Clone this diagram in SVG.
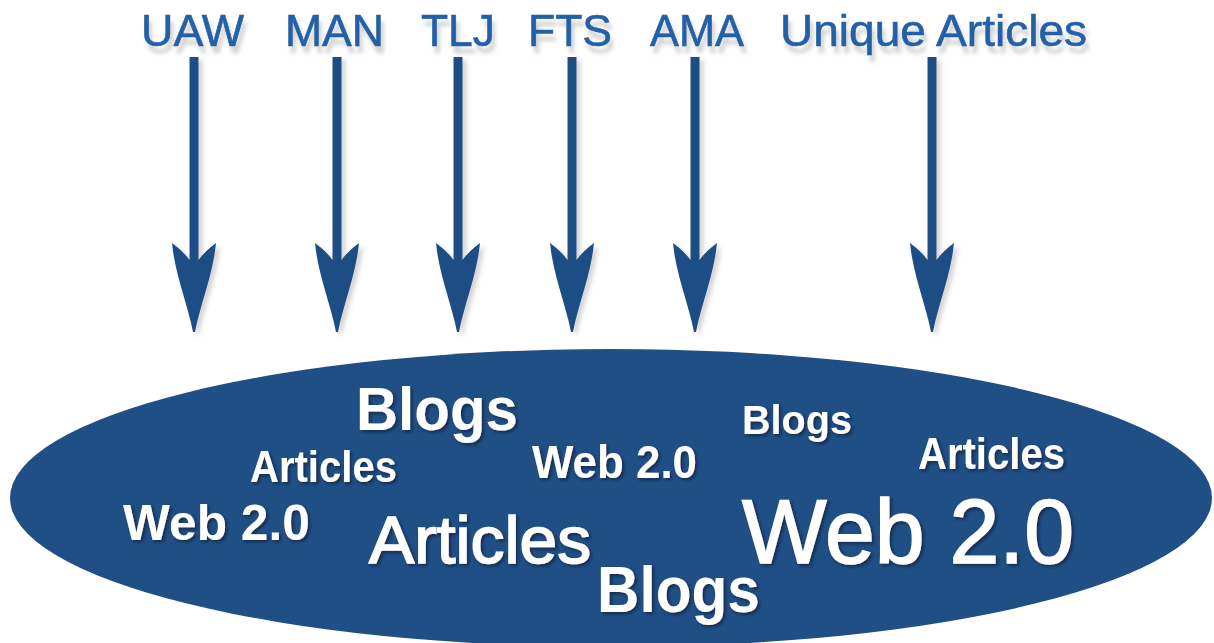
<svg xmlns="http://www.w3.org/2000/svg" width="1214" height="643" viewBox="0 0 1214 643">
<defs>
<style>
.lbl{font-family:"Liberation Sans",Arial,sans-serif;font-size:44px;fill:#2461a8;stroke:#2461a8;stroke-width:0.6;filter:url(#lblsh)}
.w{font-family:"Liberation Sans",Arial,sans-serif;fill:#ffffff;filter:url(#wsh)}
.b{font-weight:bold}
.r{stroke:#ffffff;stroke-width:1.6}
.arr{fill:#1f4e85;filter:url(#arsh)}
</style>
<filter id="lblsh" x="-10%" y="-30%" width="130%" height="180%">
<feDropShadow dx="3" dy="7" stdDeviation="2" flood-color="#777" flood-opacity="0.35"/>
</filter>
<filter id="wsh" x="-10%" y="-30%" width="130%" height="170%">
<feDropShadow dx="2" dy="2" stdDeviation="1.5" flood-color="#0a1c35" flood-opacity="0.7"/>
</filter>
<filter id="arsh" x="-50%" y="-10%" width="200%" height="120%">
<feDropShadow dx="4" dy="3" stdDeviation="2" flood-color="#777" flood-opacity="0.3"/>
</filter>
<path id="arrow" d="M-4.5,57 L4.5,57 L4.5,260 Q11,251 22,243 C19,275 6,305 1,332 L-1,332 C-6,305 -19,275 -22,243 Q-11,251 -4.5,260 Z"/>
</defs>
<rect width="1214" height="643" fill="#ffffff"/>

<g id="cloud">
<ellipse cx="611" cy="498" rx="601" ry="149" fill="#204f85"/>
<text class="w b" x="356" y="430" font-size="62" textLength="162" lengthAdjust="spacingAndGlyphs">Blogs</text>
<text class="w b" x="250" y="482" font-size="45" textLength="147" lengthAdjust="spacingAndGlyphs">Articles</text>
<text class="w b" x="123" y="540" font-size="50" textLength="187" lengthAdjust="spacingAndGlyphs">Web 2.0</text>
<text class="w r" x="369" y="563" font-size="67" textLength="222" lengthAdjust="spacingAndGlyphs">Articles</text>
<text class="w b" x="532" y="478" font-size="46" textLength="165" lengthAdjust="spacingAndGlyphs">Web 2.0</text>
<text class="w b" x="742" y="434" font-size="41" textLength="110" lengthAdjust="spacingAndGlyphs">Blogs</text>
<text class="w b" x="918" y="469" font-size="45" textLength="147" lengthAdjust="spacingAndGlyphs">Articles</text>
<text class="w r" x="742" y="563" font-size="90" textLength="332" lengthAdjust="spacingAndGlyphs">Web 2.0</text>
<text class="w b" x="597" y="612" font-size="65" textLength="163" lengthAdjust="spacingAndGlyphs">Blogs</text>
</g>

<g id="node-uaw"><text class="lbl" x="141" y="46" textLength="103" lengthAdjust="spacingAndGlyphs">UAW</text></g>
<g id="node-man"><text class="lbl" x="285" y="46" textLength="99" lengthAdjust="spacingAndGlyphs">MAN</text></g>
<g id="node-tlj"><text class="lbl" x="421" y="46" textLength="74" lengthAdjust="spacingAndGlyphs">TLJ</text></g>
<g id="node-fts"><text class="lbl" x="528" y="46" textLength="84" lengthAdjust="spacingAndGlyphs">FTS</text></g>
<g id="node-ama"><text class="lbl" x="650" y="46" textLength="94" lengthAdjust="spacingAndGlyphs">AMA</text></g>
<g id="node-unique"><text class="lbl" x="780" y="46" textLength="307" lengthAdjust="spacingAndGlyphs">Unique Articles</text></g>

<g id="connectors">
<use href="#arrow" class="arr" x="194" y="0"/>
<use href="#arrow" class="arr" x="337" y="0"/>
<use href="#arrow" class="arr" x="458" y="0"/>
<use href="#arrow" class="arr" x="572" y="0"/>
<use href="#arrow" class="arr" x="695" y="0"/>
<use href="#arrow" class="arr" x="932" y="0"/>
</g>
</svg>
